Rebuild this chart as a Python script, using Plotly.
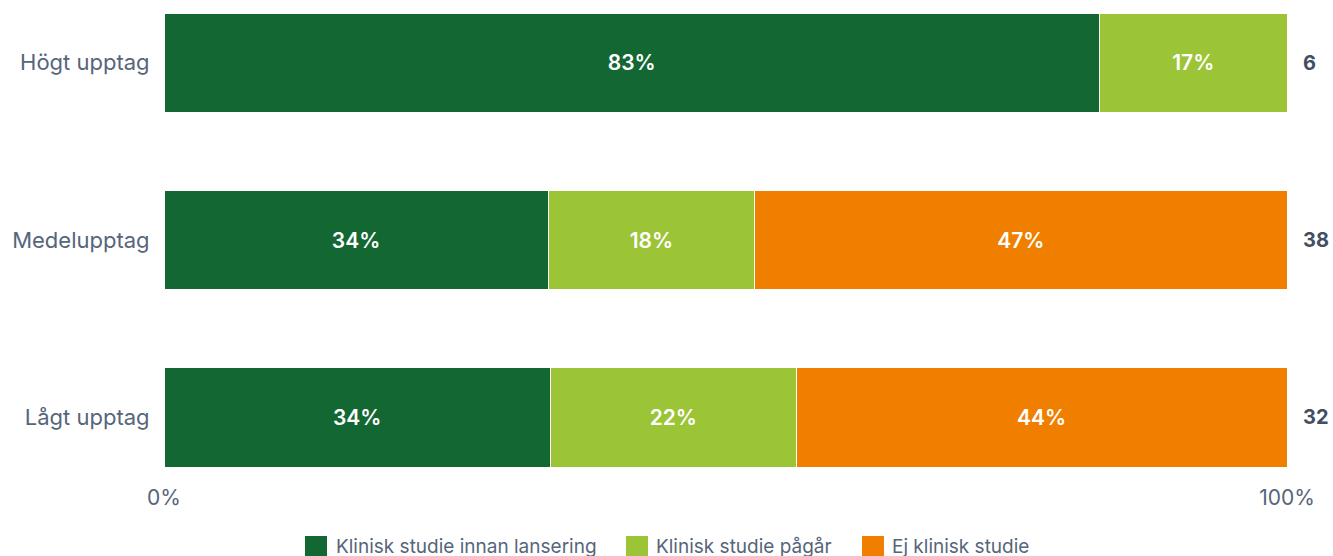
import plotly.graph_objects as go

categories = ["Lågt upptag", "Medelupptag", "Högt upptag"]
series_names = ["Klinisk studie innan lansering", "Klinisk studie pågår", "Ej klinisk studie"]
innan = [34.4, 34.2, 83.3]
pagar = [21.9, 18.4, 16.7]
ej = [43.7, 47.4, 0.0]
counts = [32, 38, 6]
x_ticks = [0, 100]
x_tick_labels = ["0%", "100%"]

colors = ["#136733", "#9BC437", "#F07F00"]
FONT = "Inter"
TEXT = "#56657a"
DARK = "#414f63"

W, H = 1333, 556
L, R, T, B = 164, 46, 13, 89
PW, PH = W - L - R, H - T - B


def px(fx):
    return (fx - L) / PW


def py(fy):
    return (H - B - fy) / PH


fig = go.Figure()
for name, vals, col in zip(series_names, [innan, pagar, ej], colors):
    fig.add_trace(go.Bar(
        y=categories, x=vals, name=name, orientation="h",
        marker=dict(color=col, line=dict(color="white", width=1)),
        width=0.56,
        text=[f"{round(v)}%" if v > 0 else "" for v in vals],
        textposition="inside", insidetextanchor="middle",
        textfont=dict(family=FONT, size=21, color="white", weight=600),
        hoverinfo="skip", showlegend=False,
    ))

for cat, n in zip(categories, counts):
    fig.add_annotation(x=1, xref="paper", y=cat, yref="y", text=f"<b>{n}</b>",
                       showarrow=False, xanchor="left", xshift=14,
                       font=dict(family=FONT, size=20, color=DARK))

# manual legend
sw_x = [305, 626, 862]
tx_x = [334, 654, 890]
for name, col, sx, tx in zip(series_names, colors, sw_x, tx_x):
    fig.add_shape(type="rect", xref="paper", yref="paper",
                  x0=px(sx), x1=px(sx + 22), y0=py(536), y1=py(558),
                  fillcolor=col, line=dict(width=0), layer="above")
    fig.add_annotation(x=px(tx), y=py(546), xref="paper", yref="paper",
                       text=name, showarrow=False, xanchor="left", yanchor="middle",
                       font=dict(family=FONT, size=19, color=TEXT))

fig.update_layout(
    barmode="stack",
    width=W, height=H,
    margin=dict(l=L, r=R, t=T, b=B),
    plot_bgcolor="white", paper_bgcolor="white",
    font=dict(family=FONT, size=20, color=TEXT),
    xaxis=dict(range=[0, 100], tickvals=x_ticks, ticktext=x_tick_labels,
               showgrid=False, zeroline=False, showline=False,
               ticks="outside", ticklen=12, tickcolor="rgba(0,0,0,0)",
               tickfont=dict(family=FONT, size=21, color=TEXT)),
    yaxis=dict(range=[-0.28, 2.28], showgrid=False, zeroline=False, showline=False,
               ticks="outside", ticklen=9, tickcolor="rgba(0,0,0,0)",
               tickfont=dict(family=FONT, size=22, color=TEXT)),
    showlegend=False,
)

fig.write_html(
    "out.html",
    config={"displayModeBar": False},
    post_script="document.body.style.margin='0';document.body.style.overflow='hidden';",
)
